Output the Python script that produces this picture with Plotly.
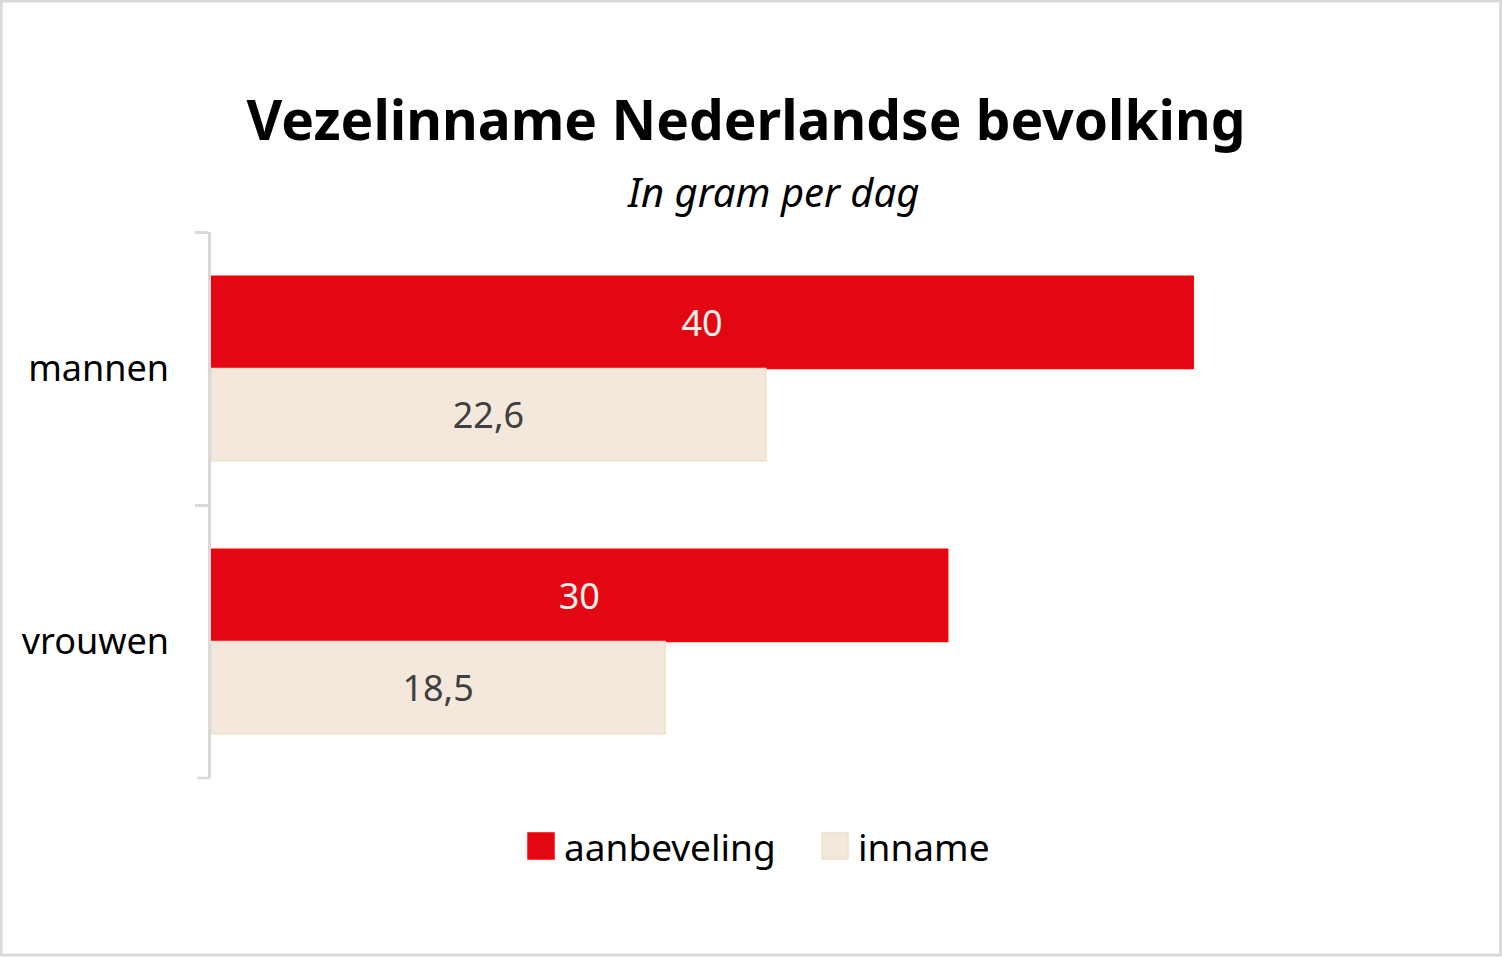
import plotly.graph_objects as go

categories = ["mannen", "vrouwen"]
aanbeveling = [40, 30]
inname = [22.6, 18.5]
series_names = ["aanbeveling", "inname"]

title_text = "Vezelinname Nederlandse bevolking"
subtitle_text = "In gram per dag"

FONT = "Noto Sans"
RED = "#E30613"
RED_LINE = "#FF0000"
BEIGE = "#F4E8DC"
BEIGE_LINE = "#EFE0C9"
GRID = "#D9D9D9"

def fmt(v):
    if float(v).is_integer():
        return str(int(v))
    return str(v).replace(".", ",")

W, H = 1502, 957
L, R, T, B = 211, 1316, 232, 778
XMAX = 45

fig = go.Figure()
fig.add_trace(go.Bar(
    y=categories, x=aanbeveling, orientation="h", name=series_names[0],
    marker=dict(color=RED, line=dict(color=RED_LINE, width=1.5)),
    text=[fmt(v) for v in aanbeveling], textposition="inside",
    insidetextanchor="middle",
    textfont=dict(family=FONT, size=36, color="#FBF3EA"),
    showlegend=False,
))
fig.add_trace(go.Bar(
    y=categories, x=inname, orientation="h", name=series_names[1],
    marker=dict(color=BEIGE, line=dict(color=BEIGE_LINE, width=1.5)),
    text=[fmt(v) for v in inname], textposition="inside",
    insidetextanchor="middle",
    textfont=dict(family=FONT, size=36, color="#404040"),
    showlegend=False,
))

def px_x(px):
    return (px - L) / (R - L)

def px_y(py):
    return (B - py) / (B - T)

# manual legend (large square swatches)
legend_items = [
    (series_names[0], RED, RED_LINE, 528),
    (series_names[1], BEIGE, BEIGE_LINE, 822),
]
LEG_Y = 846
SW = 26
shapes = []
annotations = []
for name, fill, line, x0 in legend_items:
    shapes.append(dict(
        type="rect", xref="paper", yref="paper",
        x0=px_x(x0), x1=px_x(x0 + SW),
        y0=px_y(LEG_Y + SW / 2), y1=px_y(LEG_Y - SW / 2),
        fillcolor=fill, line=dict(color=line, width=1.5),
    ))
    annotations.append(dict(
        text=name, xref="paper", yref="paper",
        x=px_x(x0 + SW + 8), y=px_y(LEG_Y),
        xanchor="left", yanchor="middle", showarrow=False,
        font=dict(family=FONT, size=37, color="black"),
    ))

annotations.append(dict(
    text="<i>" + subtitle_text + "</i>",
    font=dict(family=FONT, size=40, color="black"),
    xref="paper", yref="paper", x=px_x(773), y=px_y(191),
    xanchor="center", yanchor="middle", showarrow=False,
))

# outer frame
shapes.append(dict(
    type="rect", xref="paper", yref="paper",
    x0=px_x(1), x1=px_x(1500.5), y0=px_y(955), y1=px_y(1),
    line=dict(color=GRID, width=3), fillcolor="rgba(0,0,0,0)",
    layer="below",
))
# closing tick at the bottom boundary of the category axis
shapes.append(dict(
    type="line", xref="paper", yref="paper",
    x0=px_x(197), x1=px_x(210), y0=0, y1=0,
    line=dict(color=GRID, width=2.5),
))

fig.update_layout(
    width=W, height=H,
    margin=dict(l=L, r=W - R, t=T, b=H - B, pad=0),
    paper_bgcolor="white", plot_bgcolor="white",
    barmode="group", bargap=0.325, bargroupgap=0,
    showlegend=False,
    font=dict(family=FONT, color="black"),
    title=dict(
        text="<b>" + title_text + "</b>",
        font=dict(family=FONT, size=55, color="black"),
        x=746 / W, xanchor="center", xref="container",
        y=1 - 121 / H, yanchor="middle", yref="container",
    ),
    annotations=annotations,
    shapes=shapes,
    xaxis=dict(
        range=[0, XMAX], visible=False, showgrid=False, zeroline=False,
        fixedrange=True,
    ),
    yaxis=dict(
        type="category", range=[1.5, -0.5],
        showline=True, linecolor=GRID, linewidth=2.5,
        ticks="outside", tickson="boundaries", ticklen=13,
        tickcolor=GRID, tickwidth=2.5,
        tickfont=dict(family=FONT, size=36, color="black"),
        ticklabelstandoff=32,
        showgrid=False, zeroline=False,
    ),
)

fig.write_html("out.html")
